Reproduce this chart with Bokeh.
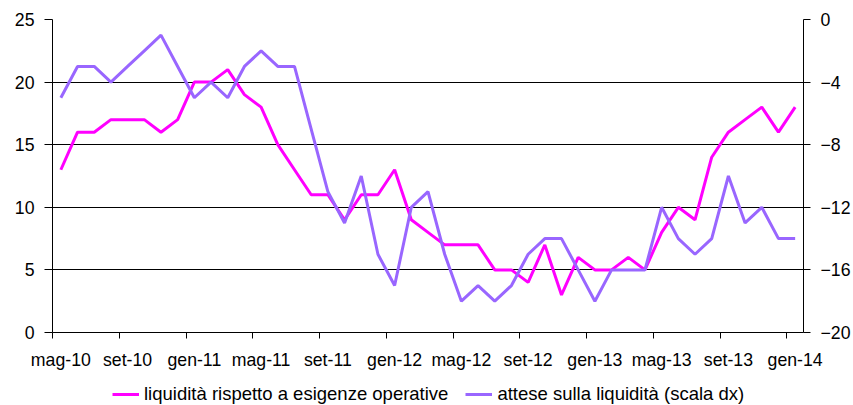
from bokeh.plotting import figure
from bokeh.layouts import column
from bokeh.models import Range1d, LinearAxis, FixedTicker, Legend, LegendItem, ColumnDataSource
from bokeh.embed import file_html
from bokeh.resources import INLINE

# ---- data (monthly, mag-10 .. gen-14) ----
month_index = list(range(45))
tick_labels = ["mag-10", "set-10", "gen-11", "mag-11", "set-11", "gen-12",
               "mag-12", "set-12", "gen-13", "mag-13", "set-13", "gen-14"]
liquidita = [13, 16, 16, 17, 17, 17, 16, 17, 20, 20, 21, 19, 18, 15, 13,
             11, 11, 9, 11, 11, 13, 9, 8, 7, 7, 7, 5, 5, 4, 7,
             3, 6, 5, 5, 6, 5, 8, 10, 9, 14, 16, 17, 18, 16, 18]
attese = [-5, -3, -3, -4, -3, -2, -1, -3, -5, -4, -5, -3, -2, -3, -3,
          -7, -11, -13, -10, -15, -17, -12, -11, -15, -18, -17, -18, -17, -15, -14,
          -14, -16, -18, -16, -16, -16, -12, -14, -15, -14, -10, -13, -12, -14, -14]
left_ticks = [0, 5, 10, 15, 20, 25]
right_ticks = [-20, -16, -12, -8, -4, 0]
name_a = "liquidità rispetto a esigenze operative"
name_b = "attese sulla liquidità (scala dx)"

FONT = "Liberation Sans"
TICK_SIZE = "17.7px"
COL_A = "#FF00FF"
COL_B = "#9966FF"

src = ColumnDataSource(dict(x=month_index, a=liquidita, b=attese))

p = figure(width=853, height=375, output_backend="svg", toolbar_location=None,
           x_range=Range1d(-0.5, len(month_index) - 0.5), y_range=Range1d(0, 25),
           min_border_left=52, min_border_right=47, min_border_top=19,
           min_border_bottom=43)
p.outline_line_color = None
p.background_fill_color = "white"
p.border_fill_color = "white"
p.extra_y_ranges = {"dx": Range1d(-20, 0)}

# x axis: labels at category centres every 4 months, tick marks at boundaries
label_pos = month_index[::4]
boundaries = [i - 0.5 for i in label_pos]
xax = p.xaxis[0]
xax.ticker = FixedTicker(ticks=label_pos, minor_ticks=boundaries)
xax.major_label_overrides = {i: lbl for i, lbl in zip(label_pos, tick_labels)}
xax.major_tick_in = 0
xax.major_tick_out = 0
xax.major_tick_line_color = None
xax.minor_tick_in = 0
xax.minor_tick_out = 6
xax.minor_tick_line_color = "black"
xax.axis_line_color = "black"
xax.major_label_standoff = 11
xax.major_label_text_font = FONT
xax.major_label_text_font_size = TICK_SIZE
xax.major_label_text_color = "black"

# left axis
yax = p.yaxis[0]
yax.ticker = FixedTicker(ticks=left_ticks)
yax.major_tick_in = 0
yax.major_tick_out = 8
yax.minor_tick_line_color = None
yax.axis_line_color = "black"
yax.major_tick_line_color = "black"
yax.major_label_standoff = 10
yax.major_label_text_font = FONT
yax.major_label_text_font_size = TICK_SIZE
yax.major_label_text_color = "black"

# right axis
rax = LinearAxis(y_range_name="dx", ticker=FixedTicker(ticks=right_ticks))
rax.major_tick_in = 0
rax.major_tick_out = 7
rax.minor_tick_line_color = None
rax.axis_line_color = "black"
rax.major_tick_line_color = "black"
rax.major_label_standoff = 10
rax.major_label_text_font = FONT
rax.major_label_text_font_size = TICK_SIZE
rax.major_label_text_color = "black"
p.add_layout(rax, "right")

p.xgrid.visible = False
p.ygrid.ticker = FixedTicker(ticks=left_ticks)
p.ygrid.grid_line_color = "black"
p.ygrid.grid_line_width = 1

p.line("x", "a", source=src, line_color=COL_A, line_width=3)
p.line("x", "b", source=src, y_range_name="dx", line_color=COL_B, line_width=3)

# ---- legend strip below the chart ----
lg = figure(width=853, height=30, output_backend="svg", toolbar_location=None,
            x_axis_location=None, y_axis_location=None,
            x_range=Range1d(0, 1), y_range=Range1d(0, 1),
            min_border_left=0, min_border_right=0, min_border_top=0,
            min_border_bottom=0)
lg.outline_line_color = None
lg.xgrid.visible = False
lg.ygrid.visible = False
la = lg.line("x", "a", source=src, line_color=COL_A, line_width=3, visible=False)
lb = lg.line("x", "b", source=src, line_color=COL_B, line_width=3, visible=False)

legend = Legend(items=[LegendItem(label=name_a, renderers=[la]),
                       LegendItem(label=name_b, renderers=[lb])],
                orientation="horizontal", location=(60, 0),
                click_policy="none",
                border_line_color=None, background_fill_alpha=0,
                padding=0, margin=0, spacing=17, glyph_width=27, glyph_height=20,
                label_standoff=5, label_height=20,
                label_text_font=FONT, label_text_font_size="18.5px",
                label_text_color="black")
lg.add_layout(legend)

open("out.html", "w").write(file_html(column(p, lg, spacing=0), INLINE))
